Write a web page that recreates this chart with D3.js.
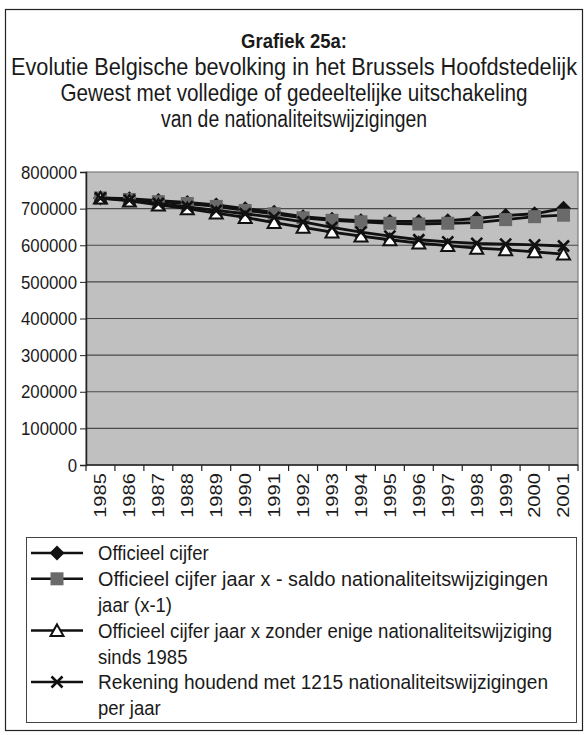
<!DOCTYPE html>
<html><head><meta charset="utf-8">
<script src="https://cdn.jsdelivr.net/npm/d3@7"></script>
<style>
body{margin:0;background:#fff}
svg{display:block}
text{font-family:"Liberation Sans",Arial,sans-serif;fill:#1a1a1a}
</style>
</head><body>
<svg id="chart" width="586" height="735"></svg>
<script>
// Belgische bevolking, Brussels Hoofdstedelijk Gewest, 1985-2001
const years = [1985,1986,1987,1988,1989,1990,1991,1992,1993,1994,1995,1996,1997,1998,1999,2000,2001];
const officieel = [729000,727000,722000,717000,710000,700000,690000,678000,671000,667000,665000,665000,667000,673000,681000,686000,701000];
const saldoVorigJaar = [729000,725000,719000,714000,706000,695000,686000,675000,668000,664000,660000,658000,660000,662000,670000,678000,682000];
const zonderWijziging = [729000,721000,710000,700000,688000,676000,662000,649000,636000,625000,615000,606000,599000,592000,588000,582000,576000];
const met1215 = [729000,723000,714000,705000,695000,686000,676000,664000,649000,636000,625000,615000,609000,605000,603000,601000,598000];
const yTicks = [0,100000,200000,300000,400000,500000,600000,700000,800000];

const titleLines = [
  "Evolutie Belgische bevolking in het Brussels Hoofdstedelijk",
  "Gewest met volledige of gedeeltelijke uitschakeling",
  "van de nationaliteitswijzigingen"
];
const titleWidths = [566, 467, 266];
const legendLabels = [
  ["Officieel cijfer"],
  ["Officieel cijfer jaar x - saldo nationaliteitswijzigingen", "jaar (x-1)"],
  ["Officieel cijfer jaar x zonder enige nationaliteitswijziging", "sinds 1985"],
  ["Rekening houdend met 1215 nationaliteitswijzigingen", "per jaar"]
];
// set widths of the long legend lines (null = natural width)
const legendWidths = [
  [null],
  [450, null],
  [454, null],
  [450, null]
];

const svg = d3.select("#chart");
const W = 586;
const plot = {left:86, right:578, top:172, bottom:465};
const SY = 1.14; // vertical stretch of the lettering

// text helper: places a label at (x,y) with slightly taller glyphs
function label(g, x, y, str, size, opts={}) {
  const t = g.append("text")
    .attr("transform", `translate(${x},${y}) scale(1,${SY})`)
    .attr("font-size", size).attr("dy", "0.35em")
    .attr("text-anchor", opts.anchor || "start")
    .text(str);
  if (opts.bold) t.attr("font-weight", "bold");
  if (opts.len) t.attr("textLength", opts.len).attr("lengthAdjust", "spacingAndGlyphs");
  return t;
}

// outer frame
svg.append("rect").attr("x",5.5).attr("y",9.5).attr("width",577).attr("height",721)
  .attr("fill","#fff").attr("stroke","#222").attr("stroke-width",1.2);

// title
label(svg, W/2+1, 41, "Grafiek 25a:", 18.5, {anchor:"middle", bold:true});
titleLines.forEach((t,i)=>{
  label(svg, W/2+1, 67+i*25.7, t, 20.5, {anchor:"middle", len:titleWidths[i]});
});

const x = d3.scaleBand().domain(years).range([plot.left, plot.right]).padding(0);
const y = d3.scaleLinear().domain([0,800000]).range([plot.bottom, plot.top]);
const cx = d => x(d) + x.bandwidth()/2;

// plot area
svg.append("rect").attr("x",plot.left).attr("y",plot.top)
  .attr("width",plot.right-plot.left).attr("height",plot.bottom-plot.top)
  .attr("fill","#c0c0c0").attr("stroke","#7a7a7a").attr("stroke-width",1.2);

// gridlines
svg.append("g").selectAll("line").data(yTicks.filter(v=>v>0 && v<800000)).join("line")
  .attr("x1",plot.left).attr("x2",plot.right)
  .attr("y1",d=>y(d)).attr("y2",d=>y(d))
  .attr("stroke","#4a4a4a").attr("stroke-width",1.2);

// y axis
const yAxis = svg.append("g").attr("transform",`translate(${plot.left},0)`)
  .call(d3.axisLeft(y).tickValues(yTicks).tickFormat(d3.format("d")).tickSize(6));
yAxis.select(".domain").attr("stroke","#222").attr("stroke-width",1.5);
yAxis.selectAll(".tick line").attr("stroke","#222");
yAxis.selectAll(".tick text").remove();
const yl = svg.append("g");
yTicks.forEach(v => label(yl, plot.left-9, y(v), d3.format("d")(v), 16.8, {anchor:"end"}));

// x axis: ticks on category boundaries, labels rotated at centres
const xg = svg.append("g");
xg.append("line").attr("x1",plot.left).attr("x2",plot.right)
  .attr("y1",plot.bottom).attr("y2",plot.bottom).attr("stroke","#222").attr("stroke-width",1.5);
xg.selectAll("line.tk").data(years.concat([null])).join("line").attr("class","tk")
  .attr("x1",d=> d===null ? plot.right : x(d)).attr("x2",d=> d===null ? plot.right : x(d))
  .attr("y1",plot.bottom).attr("y2",plot.bottom+6).attr("stroke","#222").attr("stroke-width",1.2);
xg.selectAll("text").data(years).join("text")
  .attr("transform",d=>`translate(${cx(d)},${plot.bottom+8}) scale(1,1.2) rotate(-90)`)
  .attr("text-anchor","end").attr("dy","0.35em").attr("font-size",16.8).text(d=>d);

// marker shapes
const markerPaths = {
  diamond: "M0,-7.5L7.5,0L0,7.5L-7.5,0Z",
  square: "M-6.5,-6.5H6.5V6.5H-6.5Z",
  triangle: "M0,-6L6.5,5.5L-6.5,5.5Z",
  cross: "M-5.5,-5.5L5.5,5.5M5.5,-5.5L-5.5,5.5"
};
const series = [
  {values:officieel, marker:"diamond", fill:"#111", stroke:"#111", sw:0},
  {values:saldoVorigJaar, marker:"square", fill:"#6a6a6a", stroke:"#6a6a6a", sw:0},
  {values:zonderWijziging, marker:"triangle", fill:"#fff", stroke:"#111", sw:2},
  {values:met1215, marker:"cross", fill:"none", stroke:"#111", sw:2.6}
];

const line = d3.line().x((d,i)=>cx(years[i])).y(d=>y(d));
const sg = svg.append("g");
series.forEach(s=>{
  const g = sg.append("g");
  g.append("path").attr("d",line(s.values)).attr("fill","none")
    .attr("stroke","#111").attr("stroke-width",2.8).attr("stroke-linejoin","round");
  g.selectAll("path.m").data(s.values).join("path").attr("class","m")
    .attr("transform",(d,i)=>`translate(${cx(years[i])},${y(d)})`)
    .attr("d",markerPaths[s.marker]).attr("fill",s.fill)
    .attr("stroke",s.sw?s.stroke:"none").attr("stroke-width",s.sw);
});

// legend
const lg = svg.append("g");
lg.append("rect").attr("x",26.5).attr("y",537.5).attr("width",550).attr("height",185)
  .attr("fill","#fff").attr("stroke","#444").attr("stroke-width",1);
let row = 0;
const rowH = 25.8, firstRow = 553;
series.forEach((s,i)=>{
  const yy = firstRow + row*rowH;
  lg.append("line").attr("x1",31).attr("x2",83).attr("y1",yy).attr("y2",yy)
    .attr("stroke","#111").attr("stroke-width",2.5);
  lg.append("path").attr("transform",`translate(57,${yy})`)
    .attr("d",markerPaths[s.marker]).attr("fill",s.fill)
    .attr("stroke",s.sw?s.stroke:"none").attr("stroke-width",s.sw);
  legendLabels[i].forEach((t,j)=>{
    const w = legendWidths[i][j];
    label(lg, 98, firstRow+(row+j)*rowH, t, 18.5, w ? {len:w} : {});
  });
  row += legendLabels[i].length;
});
</script>
</body></html>
